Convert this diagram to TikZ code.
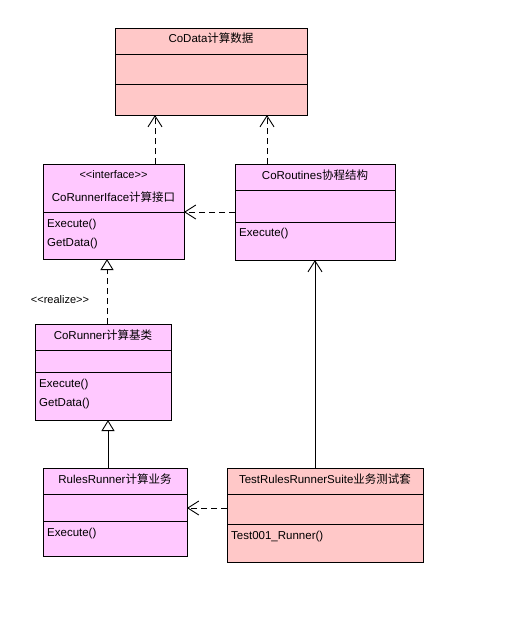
\documentclass[tikz,border=0pt]{standalone}
\usepackage{fontspec}
\setmainfont{Liberation Sans}
\newfontfamily\cjk{Noto Sans CJK SC}
\usetikzlibrary{arrows.meta}
\definecolor{salmonbox}{HTML}{FFC8C8}
\definecolor{orchidbox}{HTML}{FFC8FF}
\tikzset{
  cls/.style={draw, line width=0.9pt, anchor=north west, inner sep=0pt, outer sep=0pt},
  ttl/.style={font=\fontsize{11.5}{13}\selectfont, inner sep=0pt, anchor=base},
  mem/.style={font=\fontsize{11.5}{13}\selectfont, inner sep=0pt, anchor=base west},
  conn/.style={line width=0.9pt},
  dep/.style={conn, dash pattern=on 6pt off 4pt, -{Straight Barb[length=11pt,width=14pt,line width=0.9pt]}},
  assoc/.style={conn, -{Straight Barb[length=11pt,width=14pt,line width=0.9pt]}},
  realz/.style={conn, dash pattern=on 6pt off 4pt, -{Triangle[open,length=11pt,width=13pt,line width=0.9pt,fill=white]}},
  inh/.style={conn, -{Triangle[open,length=11pt,width=13pt,line width=0.9pt,fill=white]}},
}
\begin{document}
\begin{tikzpicture}[x=1pt,y=1pt]
\useasboundingbox[fill=white] (0,0) rectangle (506,-641);

% CoData
\node[cls, fill=salmonbox, minimum width=192pt, minimum height=87pt] (codata) at (115,-28) {};
\draw[conn] (codata.west |- 0,-54) -- (codata.east |- 0,-54);
\draw[conn] (codata.west |- 0,-84) -- (codata.east |- 0,-84);
\node[ttl] (codatat) at (211,-42) {CoData{\cjk 计算数据}};

% CoRunnerIface
\node[cls, fill=orchidbox, minimum width=141pt, minimum height=95pt] (iface) at (43,-164) {};
\draw[conn] (iface.west |- 0,-212) -- (iface.east |- 0,-212);
\node[ttl] (ifacest) at (113.5,-178) {\fontsize{11}{12}\selectfont {<}{<}interface{>}{>}};
\node[ttl] (ifacet) at (113.5,-201) {CoRunnerIface{\cjk 计算接口}};
\node[mem] (ifacem1) at (47,-227) {Execute()};
\node[mem] (ifacem2) at (47,-246) {GetData()};

% CoRoutines
\node[cls, fill=orchidbox, minimum width=160pt, minimum height=96pt] (corout) at (235,-164) {};
\draw[conn] (corout.west |- 0,-190) -- (corout.east |- 0,-190);
\draw[conn] (corout.west |- 0,-222) -- (corout.east |- 0,-222);
\node[ttl] (coroutt) at (315,-179) {CoRoutines{\cjk 协程结构}};
\node[mem] (coroutm1) at (239,-236) {Execute()};

% CoRunner
\node[cls, fill=orchidbox, minimum width=136pt, minimum height=96pt] (corunner) at (35,-324) {};
\draw[conn] (corunner.west |- 0,-350) -- (corunner.east |- 0,-350);
\draw[conn] (corunner.west |- 0,-372) -- (corunner.east |- 0,-372);
\node[ttl] (corunnert) at (103,-339) {CoRunner{\cjk 计算基类}};
\node[mem] (corunnerm1) at (39,-387) {Execute()};
\node[mem] (corunnerm2) at (39,-406) {GetData()};

% RulesRunner
\node[cls, fill=orchidbox, minimum width=144pt, minimum height=88pt] (rules) at (43,-468) {};
\draw[conn] (rules.west |- 0,-494) -- (rules.east |- 0,-494);
\draw[conn] (rules.west |- 0,-521) -- (rules.east |- 0,-521);
\node[ttl] (rulest) at (115,-483) {RulesRunner{\cjk 计算业务}};
\node[mem] (rulesm1) at (47,-536) {Execute()};

% TestRulesRunnerSuite
\node[cls, fill=salmonbox, minimum width=196pt, minimum height=94pt] (test) at (227,-468) {};
\draw[conn] (test.west |- 0,-494) -- (test.east |- 0,-494);
\draw[conn] (test.west |- 0,-524) -- (test.east |- 0,-524);
\node[ttl] (testt) at (325,-483) {TestRulesRunnerSuite{\cjk 业务测试套}};
\node[mem] (testm1) at (231,-539) {Test001\_Runner()};

% connectors
\coordinate (xa) at (155,0);
\coordinate (xb) at (267,0);
\coordinate (xr) at (107,0);
\coordinate (xi) at (108,0);
\coordinate (ya) at (0,-212);
\coordinate (yb) at (0,-508);
\draw[dep] (iface.north -| xa) -- (codata.south -| xa);
\draw[dep] (corout.north -| xb) -- (codata.south -| xb);
\draw[dep] (corout.west |- ya) -- (iface.east |- ya);
\draw[realz] (corunner.north -| xr) -- (iface.south -| xr);
\draw[inh] (rules.north -| xi) -- (corunner.south -| xi);
\draw[assoc] (test.north -| corout.south) -- (corout.south);
\draw[dep] (test.west |- yb) -- (rules.east |- yb);
\node[font=\fontsize{11}{12}\selectfont, inner sep=0pt, anchor=base] (realizel) at (60,-303) {{<}{<}realize{>}{>}};
\end{tikzpicture}
\end{document}
